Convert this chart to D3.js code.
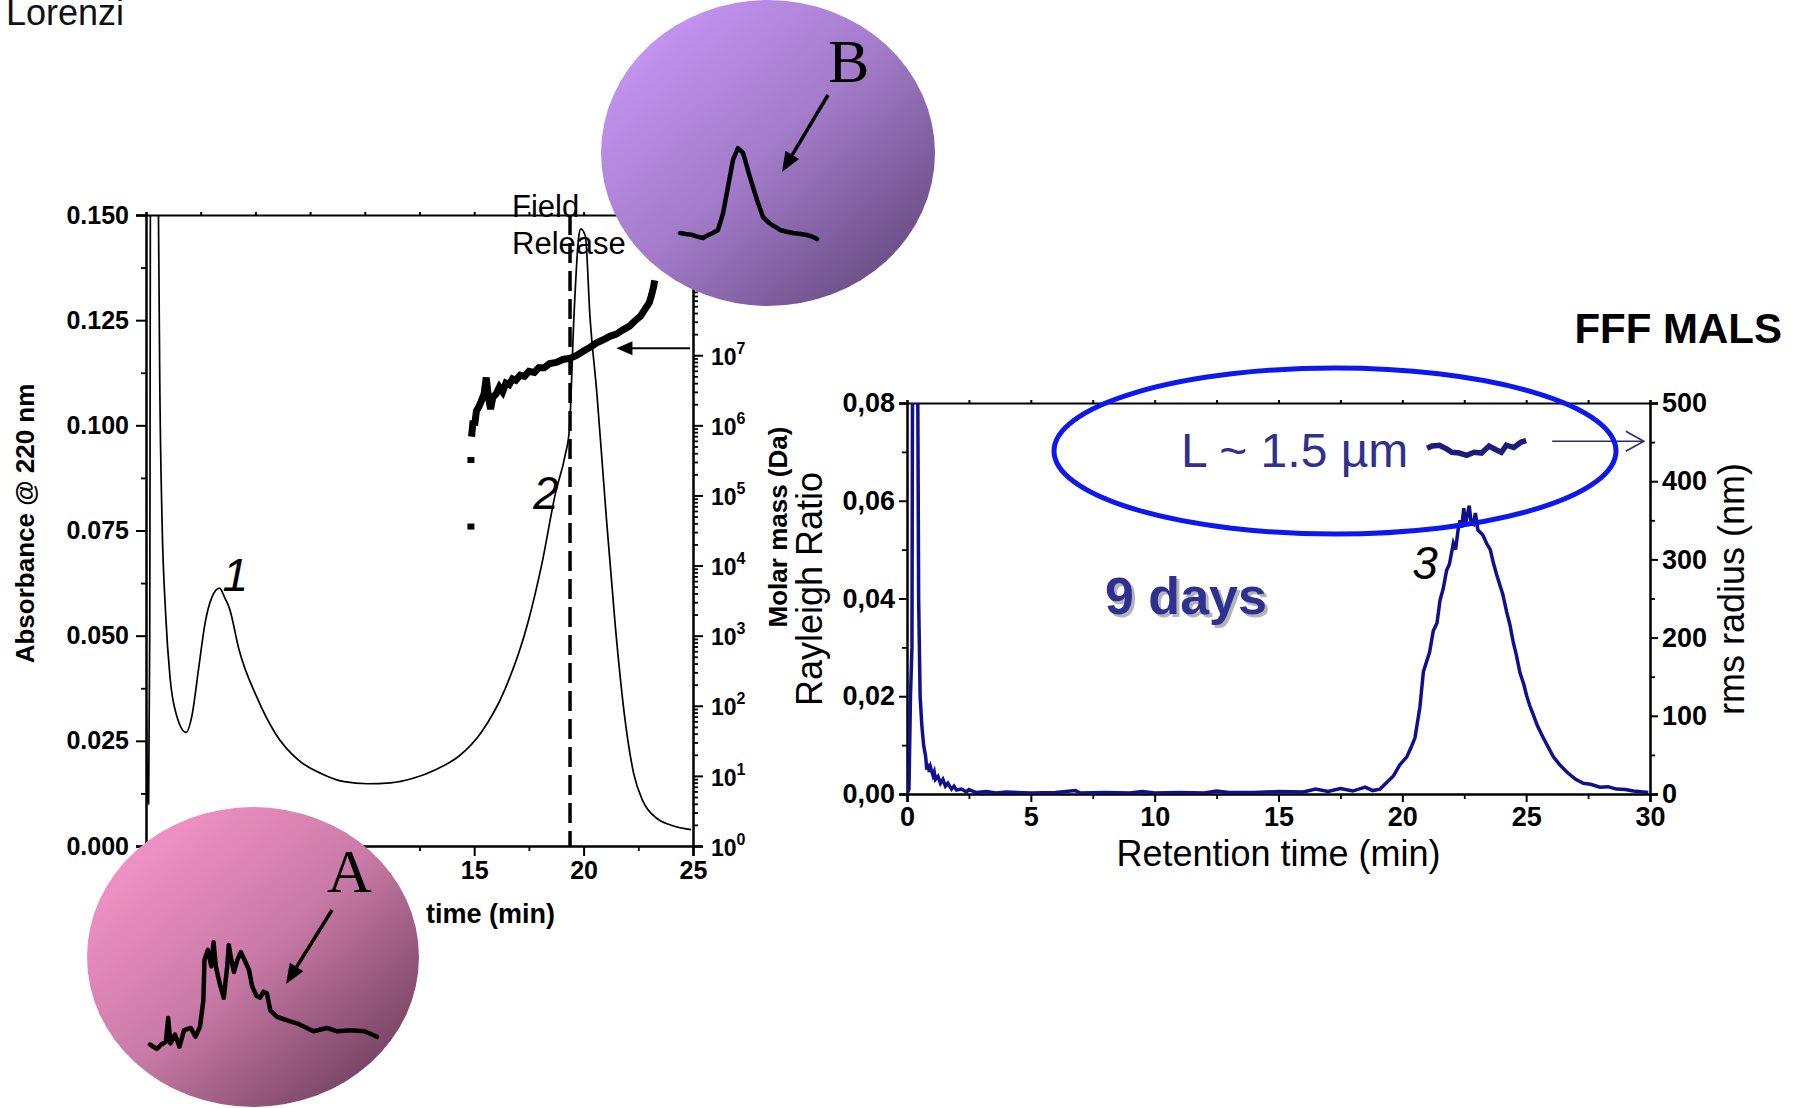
<!DOCTYPE html>
<html>
<head>
<meta charset="utf-8">
<script src="https://cdn.jsdelivr.net/npm/d3@7"></script>
<style>
body { margin: 0; background: #fff; }
svg { display: block; font-family: "Liberation Sans", Arial, sans-serif; }
</style>
</head>
<body>
<svg id="fig" width="1802" height="1108"></svg>
<script>
// ---- data ----
// left chart: UV absorbance trace [time (min), absorbance]
const absorbanceSeries = [
  [0.00, 0.040], [0.08, 0.011], [0.12, 0.010], [0.17, 0.050], [0.22, 0.200], [0.52, 0.200],
  [0.57, 0.150], [0.63, 0.110], [0.73, 0.078], [0.90, 0.055], [1.10, 0.040], [1.40, 0.031],
  [1.83, 0.027], [2.10, 0.031], [2.40, 0.042], [2.70, 0.053], [3.00, 0.059], [3.36, 0.0613],
  [3.60, 0.059], [3.82, 0.0564], [4.24, 0.0469], [5.08, 0.0352], [5.92, 0.0267], [6.97, 0.0204],
  [8.02, 0.0172], [9.06, 0.0153], [10.11, 0.0148], [11.17, 0.0150], [12.21, 0.0161], [13.26, 0.0182],
  [14.31, 0.0214], [15.36, 0.0273], [16.41, 0.0373], [17.46, 0.0532], [18.09, 0.067], [18.72, 0.084],
  [19.14, 0.0925], [19.35, 0.099], [19.56, 0.126], [19.77, 0.1445], [19.87, 0.1467], [20.08, 0.145],
  [20.29, 0.126], [20.61, 0.1074], [21.03, 0.0787], [21.45, 0.0522], [21.87, 0.031], [22.29, 0.0172],
  [22.70, 0.0108], [23.34, 0.0066], [23.97, 0.005], [24.91, 0.0039]
];
// left chart: molar mass [time (min), Da]
const molarDots = [[14.85, 3.6e4], [14.85, 3.2e5]];
const molarSeries = [
  [14.88, 6.9e5], [14.95, 1.17e6], [15.02, 1.0e6], [15.10, 1.6e6], [15.20, 1.8e6], [15.32, 2.2e6],
  [15.45, 2.8e6], [15.55, 4.8e6], [15.65, 2.5e6], [15.75, 1.7e6], [15.85, 2.5e6], [16.00, 2.8e6],
  [16.15, 3.5e6], [16.30, 3.0e6], [16.45, 4.0e6], [16.60, 3.8e6], [16.75, 4.6e6], [16.90, 4.4e6],
  [17.10, 5.2e6], [17.30, 5.0e6], [17.50, 5.9e6], [17.75, 5.7e6], [17.95, 6.6e6], [18.20, 6.6e6],
  [18.45, 7.6e6], [18.75, 7.9e6], [19.05, 8.7e6], [19.40, 9.1e6], [19.70, 1.0e7], [20.00, 1.15e7],
  [20.30, 1.3e7], [20.60, 1.5e7], [20.90, 1.66e7], [21.20, 1.86e7], [21.50, 2.0e7], [21.80, 2.3e7],
  [22.10, 2.6e7], [22.40, 3.2e7], [22.60, 3.6e7], [22.80, 4.5e7], [23.00, 5.6e7], [23.10, 7.1e7],
  [23.20, 9.5e7], [23.25, 1.17e8]
];
const fieldReleaseTime = 19.38;
const absTicks = [0, 0.025, 0.05, 0.075, 0.1, 0.125, 0.15];
const timeTicksLeft = [0, 5, 10, 15, 20, 25];
const massExponents = [0, 1, 2, 3, 4, 5, 6, 7, 8];

// right chart: Rayleigh ratio [time (min), ratio]
const rayleighSeries = [
  [0.00, 0.0000], [0.08, 0.0010], [0.14, 0.0200], [0.20, 0.0300], [0.23, 0.1000], [0.42, 0.1000],
  [0.47, 0.0400], [0.53, 0.0200], [0.60, 0.0140], [0.67, 0.0100], [0.75, 0.0078], [0.80, 0.0050],
  [0.85, 0.0062], [0.90, 0.0045], [0.95, 0.0055], [1.05, 0.0038], [1.10, 0.0045], [1.15, 0.0030],
  [1.25, 0.0036], [1.35, 0.0022], [1.45, 0.0030], [1.55, 0.0016], [1.65, 0.0022], [1.80, 0.0010],
  [1.90, 0.0016], [2.00, 0.0008], [2.20, 0.0010], [2.40, 0.0004], [2.50, 0.0009], [2.80, 0.0003],
  [3.20, 0.0005], [3.60, 0.0002], [4.00, 0.0004], [5.00, 0.0002], [6.00, 0.0003], [6.80, 0.0007],
  [7.00, 0.0002], [8.00, 0.0003], [9.00, 0.0002], [9.50, 0.0005], [10.00, 0.0002], [11.00, 0.0003],
  [12.00, 0.0002], [12.50, 0.0006], [13.00, 0.0003], [14.00, 0.0003], [15.00, 0.0005], [16.00, 0.0004],
  [16.50, 0.0010], [17.00, 0.0005], [17.50, 0.0011], [18.00, 0.0006], [18.50, 0.0014], [18.80, 0.0007],
  [19.10, 0.0010], [19.40, 0.0025], [19.64, 0.0037], [19.90, 0.0060], [20.18, 0.0076], [20.35, 0.0095],
  [20.51, 0.0115], [20.71, 0.0178], [20.85, 0.0250], [20.98, 0.0271], [21.10, 0.0290], [21.25, 0.0334],
  [21.40, 0.0350], [21.52, 0.0396], [21.65, 0.0420], [21.79, 0.0458], [21.90, 0.0470], [22.06, 0.0513],
  [22.15, 0.0500], [22.25, 0.0540], [22.33, 0.0560], [22.40, 0.0545], [22.48, 0.0585], [22.55, 0.0550],
  [22.62, 0.0570], [22.70, 0.0590], [22.78, 0.0555], [22.87, 0.0552], [22.95, 0.0575], [23.05, 0.0540],
  [23.13, 0.0536], [23.25, 0.0530], [23.40, 0.0513], [23.55, 0.0500], [23.67, 0.0474], [23.80, 0.0450],
  [23.94, 0.0427], [24.05, 0.0410], [24.21, 0.0373], [24.35, 0.0345], [24.48, 0.0310], [24.60, 0.0285],
  [24.75, 0.0248], [24.90, 0.0225], [25.02, 0.0201], [25.15, 0.0180], [25.29, 0.0162], [25.45, 0.0140],
  [25.69, 0.0115], [25.90, 0.0095], [26.10, 0.0076], [26.35, 0.0060], [26.64, 0.0045], [27.00, 0.0030],
  [27.31, 0.0022], [27.60, 0.0020], [27.98, 0.0014], [28.30, 0.0015], [28.65, 0.0010], [29.00, 0.0009],
  [29.33, 0.0006], [29.93, 0.0003]
];
// right chart: rms radius [time (min), nm]
const radiusSeries = [
  [21.00, 442], [21.20, 445], [21.50, 446], [21.80, 441], [22.00, 437], [22.30, 436], [22.60, 433],
  [22.90, 437], [23.20, 436], [23.50, 445], [23.80, 440], [24.00, 437], [24.20, 446], [24.50, 443],
  [24.80, 450], [25.00, 452]
];
const ratioTicks = [0, 0.02, 0.04, 0.06, 0.08];
const radiusTicks = [0, 100, 200, 300, 400, 500];
const timeTicksRight = [0, 5, 10, 15, 20, 25, 30];

// insets: fractogram shapes [elution, signal] on a 0..100 grid
const insetA = [
  [0, 5], [3, 1], [5, 5], [7, 7.5], [8, 29], [9, 6], [11, 14], [13, 3], [15, 18], [18, 20], [20, 12],
  [22, 21], [23.5, 45], [24, 82], [25.5, 91], [27, 76], [28, 98], [29, 76], [31, 58], [32.5, 47.5],
  [34, 76], [34.7, 95.5], [35.8, 82], [37, 71], [38.5, 82], [40, 89], [41.4, 83], [43.6, 73], [45, 58],
  [47, 49], [48.5, 47.5], [50, 53], [51.5, 51.5], [53, 36], [56, 30], [60.5, 27], [65, 24], [72, 17],
  [78, 20], [82.5, 17], [88.5, 18], [94.5, 17], [100, 12]
];
const insetB = [
  [0, 7.6], [4, 6.5], [9.5, 5.4], [12, 4], [16.8, 2.2], [20, 5], [24, 7.6], [27.7, 10.9], [31.4, 29],
  [35, 57.6], [38.7, 87], [42.3, 100], [46, 94.6], [51, 68.5], [56.2, 43.5], [60.6, 25], [64, 20],
  [67.2, 16.3], [70, 14], [73, 10.9], [78, 9], [82.5, 7.6], [88, 6.5], [92.7, 5.4], [96, 4], [100, 1]
];

// ---- drawing ----
const svg = d3.select("#fig");
const defs = svg.append("defs");
const font = "'Liberation Sans', Arial, sans-serif";

const gradA = defs.append("linearGradient").attr("id", "gradA")
  .attr("x1", 0).attr("y1", 0).attr("x2", 1).attr("y2", 1);
gradA.append("stop").attr("offset", 0).attr("stop-color", "#ff9ad0");
gradA.append("stop").attr("offset", 0.5).attr("stop-color", "#c97aa6");
gradA.append("stop").attr("offset", 1).attr("stop-color", "#5c324d");

const gradB = defs.append("linearGradient").attr("id", "gradB")
  .attr("x1", 0).attr("y1", 0).attr("x2", 1).attr("y2", 1);
gradB.append("stop").attr("offset", 0).attr("stop-color", "#d09cff");
gradB.append("stop").attr("offset", 0.5).attr("stop-color", "#a27bc9");
gradB.append("stop").attr("offset", 1).attr("stop-color", "#58406f");

function styleAxis(g, size, width) {
  g.attr("font-family", font).attr("font-size", size).attr("font-weight", "bold");
  g.select(".domain").attr("stroke", "#000").attr("stroke-width", width || 2.5);
  g.selectAll(".tick line").attr("stroke", "#000").attr("stroke-width", 2);
  g.selectAll(".tick text").attr("fill", "#000");
  return g;
}
function minorAxis(axis, g) {
  g.call(axis.tickFormat(""));
  g.select(".domain").remove();
  g.selectAll(".tick line").attr("stroke", "#000").attr("stroke-width", 1.8);
}

// ===== left chart =====
const L = { x0: 146, x1: 693, y0: 846, y1: 215 };
const lx = d3.scaleLinear().domain([0, 25]).range([L.x0, L.x1]);
const ly = d3.scaleLinear().domain([0, 0.15]).range([L.y0, L.y1]);
const lm = d3.scaleLog().domain([1, 1e9]).range([L.y0, L.y1]);

defs.append("clipPath").attr("id", "clipL").append("rect")
  .attr("x", L.x0).attr("y", L.y1).attr("width", L.x1 - L.x0).attr("height", L.y0 - L.y1);

const left = svg.append("g");

// top border with tiny ticks
const topL = left.append("g").attr("transform", `translate(0,${L.y1})`);
topL.call(d3.axisTop(lx).tickValues(d3.range(0, 25.1, 2.5)).tickSize(3).tickFormat(""));
styleAxis(topL, 10, 2.2);

// left axis
const yAxL = left.append("g").attr("transform", `translate(${L.x0},0)`);
yAxL.call(d3.axisLeft(ly).tickValues(absTicks).tickSize(10).tickPadding(7).tickFormat(d3.format(".3f")));
styleAxis(yAxL, 25);
minorAxis(d3.axisLeft(ly).tickValues(d3.range(0.0125, 0.15, 0.025)).tickSize(5),
  left.append("g").attr("transform", `translate(${L.x0},0)`));

// bottom axis (the labels 0, 5, 10 sit under inset A and are not shown)
const xAxL = left.append("g").attr("transform", `translate(0,${L.y0})`);
xAxL.call(d3.axisBottom(lx).tickValues(timeTicksLeft).tickSize(10).tickPadding(5)
  .tickFormat(d => d >= 15 ? d : ""));
styleAxis(xAxL, 25);
minorAxis(d3.axisBottom(lx).tickValues(d3.range(2.5, 25, 5)).tickSize(5),
  left.append("g").attr("transform", `translate(0,${L.y0})`));

// right log axis
const mAx = left.append("g").attr("transform", `translate(${L.x1},0)`);
mAx.call(d3.axisRight(lm).tickValues(massExponents.map(e => Math.pow(10, e))).tickSize(10).tickPadding(8).tickFormat(() => ""));
styleAxis(mAx, 23);
mAx.selectAll(".tick text").each(function (d) {
  const t = d3.select(this).attr("dy", "0.4em");
  t.append("tspan").text("10");
  t.append("tspan").attr("dy", -11).attr("font-size", 16).text(Math.round(Math.log10(d)));
});
const minorMass = [];
massExponents.forEach(e => { for (let k = 2; k <= 9; k++) minorMass.push(k * Math.pow(10, e)); });
minorAxis(d3.axisRight(lm).tickValues(minorMass).tickSize(5),
  left.append("g").attr("transform", `translate(${L.x1},0)`));

// traces
const plotL = left.append("g").attr("clip-path", "url(#clipL)");
plotL.append("path")
  .datum(absorbanceSeries)
  .attr("fill", "none").attr("stroke", "#000").attr("stroke-width", 1.7)
  .attr("d", d3.line().x(d => lx(d[0])).y(d => ly(d[1])).curve(d3.curveMonotoneX));

left.append("line")
  .attr("x1", lx(fieldReleaseTime)).attr("x2", lx(fieldReleaseTime))
  .attr("y1", L.y1).attr("y2", L.y0)
  .attr("stroke", "#000").attr("stroke-width", 3.5).attr("stroke-dasharray", "20,8");

left.append("path")
  .datum(molarSeries)
  .attr("fill", "none").attr("stroke", "#000").attr("stroke-width", 7).attr("stroke-linejoin", "miter")
  .attr("d", d3.line().x(d => lx(d[0])).y(d => lm(d[1])));
left.selectAll(".mdot").data(molarDots).join("rect")
  .attr("class", "mdot")
  .attr("x", d => lx(d[0]) - 3.5).attr("y", d => lm(d[1]) - 3)
  .attr("width", 7).attr("height", 6).attr("fill", "#000");

// arrow pointing at molar mass trace
const arrowY = lm(Math.pow(10, 7.1));
left.append("line").attr("x1", L.x1 - 3).attr("x2", lx(21.5) + 12)
  .attr("y1", arrowY).attr("y2", arrowY).attr("stroke", "#000").attr("stroke-width", 2);
left.append("path")
  .attr("d", `M${lx(21.5)},${arrowY} L${lx(21.5) + 16},${arrowY - 7} L${lx(21.5) + 16},${arrowY + 7} Z`)
  .attr("fill", "#000");

// labels
left.append("text").attr("transform", `translate(34,${(L.y0 + L.y1) / 2 - 7}) rotate(-90)`)
  .attr("text-anchor", "middle").attr("font-family", font).attr("font-weight", "bold")
  .attr("font-size", 26).text("Absorbance @ 220 nm");
left.append("text").attr("transform", `translate(787,527) rotate(-90)`)
  .attr("text-anchor", "middle").attr("font-family", font).attr("font-weight", "bold")
  .attr("font-size", 26).text("Molar mass (Da)");
left.append("text").attr("x", 555).attr("y", 923).attr("text-anchor", "end")
  .attr("font-family", font).attr("font-weight", "bold").attr("font-size", 27)
  .text("time (min)");
left.append("text").attr("x", 512).attr("y", 217).attr("font-family", font)
  .attr("font-size", 31).text("Field");
left.append("text").attr("x", 512).attr("y", 254).attr("font-family", font)
  .attr("font-size", 31).text("Release");
left.append("text").attr("x", lx(3.5)).attr("y", ly(0.0605)).attr("font-family", font)
  .attr("font-style", "italic").attr("font-size", 46).text("1");
left.append("text").attr("x", lx(17.7)).attr("y", ly(0.080)).attr("font-family", font)
  .attr("font-style", "italic").attr("font-size", 46).text("2");

svg.append("text").attr("x", 6).attr("y", 25).attr("font-family", font)
  .attr("font-size", 36).attr("fill", "#111").text("Lorenzi");

// ===== insets =====
function inset(cfg) {
  const g = svg.append("g");
  g.append("ellipse").attr("cx", cfg.cx).attr("cy", cfg.cy).attr("rx", cfg.rx).attr("ry", cfg.ry)
    .attr("fill", `url(#${cfg.grad})`);
  const sx = d3.scaleLinear().domain([0, 100]).range(cfg.xr);
  const sy = d3.scaleLinear().domain([0, 100]).range(cfg.yr);
  g.append("path").datum(cfg.data)
    .attr("fill", "none").attr("stroke", "#000").attr("stroke-width", 4.5)
    .attr("stroke-linejoin", "round").attr("stroke-linecap", "round")
    .attr("d", d3.line().x(d => sx(d[0])).y(d => sy(d[1])));
  g.append("text").attr("x", cfg.lx).attr("y", cfg.ly)
    .attr("font-family", "'Liberation Serif', 'Times New Roman', serif")
    .attr("font-size", 62).text(cfg.label);
  const [ax1, ay1, ax2, ay2] = cfg.arrow;
  const ang = Math.atan2(ay2 - ay1, ax2 - ax1);
  const hl = 20, hw = 8;
  const bx = ax2 - hl * Math.cos(ang), by = ay2 - hl * Math.sin(ang);
  g.append("line").attr("x1", ax1).attr("y1", ay1).attr("x2", bx).attr("y2", by)
    .attr("stroke", "#000").attr("stroke-width", 3.5);
  g.append("path").attr("d",
    `M${ax2},${ay2} L${bx + hw * Math.sin(ang)},${by - hw * Math.cos(ang)} L${bx - hw * Math.sin(ang)},${by + hw * Math.cos(ang)} Z`)
    .attr("fill", "#000");
}
inset({ cx: 253, cy: 957, rx: 166, ry: 150, grad: "gradA", data: insetA,
  xr: [150, 377], yr: [1050, 940], label: "A", lx: 327, ly: 892, arrow: [332, 910, 286, 984] });
inset({ cx: 768, cy: 153, rx: 167, ry: 153, grad: "gradB", data: insetB,
  xr: [680, 817], yr: [240, 148], label: "B", lx: 828, ly: 82, arrow: [828, 95, 782, 172] });

// ===== right chart =====
const R = { x0: 907, x1: 1650, y0: 794, y1: 403 };
const rx = d3.scaleLinear().domain([0, 30]).range([R.x0, R.x1]);
const ry = d3.scaleLinear().domain([0, 0.08]).range([R.y0, R.y1]);
const rr = d3.scaleLinear().domain([0, 500]).range([R.y0, R.y1]);

defs.append("clipPath").attr("id", "clipR").append("rect")
  .attr("x", R.x0).attr("y", R.y1).attr("width", R.x1 - R.x0).attr("height", R.y0 - R.y1);

const right = svg.append("g");
const topR = right.append("g").attr("transform", `translate(0,${R.y1})`);
topR.call(d3.axisTop(rx).tickValues(d3.range(0, 30.1, 2.5)).tickSize(3).tickFormat(""));
styleAxis(topR, 10, 2.2);

const yAxR = right.append("g").attr("transform", `translate(${R.x0},0)`);
yAxR.call(d3.axisLeft(ry).tickValues(ratioTicks).tickSize(8).tickPadding(4)
  .tickFormat(d => d.toFixed(2).replace(".", ",")));
styleAxis(yAxR, 27);
minorAxis(d3.axisLeft(ry).tickValues(d3.range(0.01, 0.08, 0.02)).tickSize(5),
  right.append("g").attr("transform", `translate(${R.x0},0)`));

const xAxR = right.append("g").attr("transform", `translate(0,${R.y0})`);
xAxR.call(d3.axisBottom(rx).tickValues(timeTicksRight).tickSize(8).tickPadding(5));
styleAxis(xAxR, 27);
minorAxis(d3.axisBottom(rx).tickValues(d3.range(2.5, 30, 5)).tickSize(5),
  right.append("g").attr("transform", `translate(0,${R.y0})`));

const rAx = right.append("g").attr("transform", `translate(${R.x1},0)`);
rAx.call(d3.axisRight(rr).tickValues(radiusTicks).tickSize(8).tickPadding(4));
styleAxis(rAx, 27);
minorAxis(d3.axisRight(rr).tickValues(d3.range(50, 500, 100)).tickSize(5),
  right.append("g").attr("transform", `translate(${R.x1},0)`));

const plotR = right.append("g").attr("clip-path", "url(#clipR)");
plotR.append("path").datum(rayleighSeries)
  .attr("fill", "none").attr("stroke", "#10108f").attr("stroke-width", 3.5)
  .attr("d", d3.line().x(d => rx(d[0])).y(d => ry(d[1])));
plotR.append("path").datum(radiusSeries)
  .attr("fill", "none").attr("stroke", "#1c1c7c").attr("stroke-width", 5.5)
  .attr("d", d3.line().x(d => rx(d[0])).y(d => rr(d[1])));

// arrow to the radius axis
const ra = rr(451);
right.append("line").attr("x1", rx(26.05)).attr("x2", rx(29.75)).attr("y1", ra).attr("y2", ra)
  .attr("stroke", "#2b2b78").attr("stroke-width", 1.6);
right.append("path")
  .attr("d", `M${rx(29.75) - 18},${ra - 10} L${rx(29.75)},${ra} L${rx(29.75) - 18},${ra + 10}`)
  .attr("fill", "none").attr("stroke", "#2b2b78").attr("stroke-width", 1.6);

right.append("ellipse").attr("cx", 1335).attr("cy", 451).attr("rx", 281).attr("ry", 83)
  .attr("fill", "none").attr("stroke", "#0d18f0").attr("stroke-width", 5);

right.append("text").attr("x", 1181).attr("y", 467).attr("font-family", font)
  .attr("font-size", 48).attr("fill", "#2f318a").text("L ~ 1.5 µm");
right.append("text").attr("x", 1108).attr("y", 617).attr("font-family", font)
  .attr("font-weight", "bold").attr("font-size", 52).attr("fill", "#b4b4b4").text("9 days");
right.append("text").attr("x", 1105).attr("y", 614).attr("font-family", font)
  .attr("font-weight", "bold").attr("font-size", 52).attr("fill", "#2e3192").text("9 days");
right.append("text").attr("x", rx(20.4)).attr("y", ry(0.044)).attr("font-family", font)
  .attr("font-style", "italic").attr("font-size", 46).text("3");
right.append("text").attr("x", 1782).attr("y", 343).attr("text-anchor", "end")
  .attr("font-family", font).attr("font-weight", "bold").attr("font-size", 42).text("FFF MALS");

right.append("text").attr("transform", `translate(822,589) rotate(-90)`)
  .attr("text-anchor", "middle").attr("font-family", font).attr("font-size", 36).text("Rayleigh Ratio");
right.append("text").attr("transform", `translate(1744,589) rotate(-90)`)
  .attr("text-anchor", "middle").attr("font-family", font).attr("font-size", 36).text("rms radius (nm)");
right.append("text").attr("x", (R.x0 + R.x1) / 2).attr("y", 866).attr("text-anchor", "middle")
  .attr("font-family", font).attr("font-size", 36).text("Retention time (min)");
</script>
</body>
</html>
